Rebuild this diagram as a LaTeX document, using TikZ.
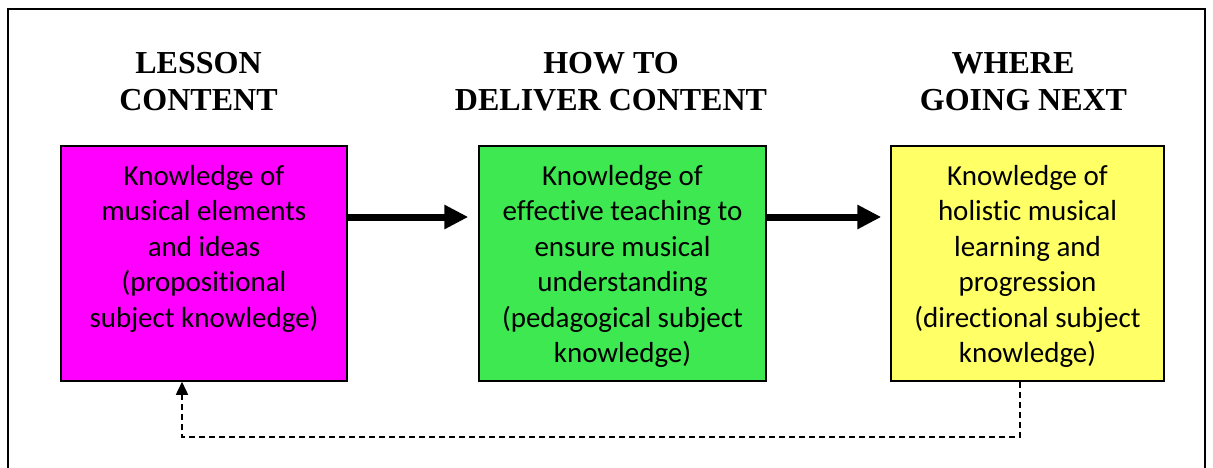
\documentclass[tikz,border=0pt]{standalone}
\usepackage{fontspec}
\setmainfont{Carlito}[Ligatures=NoCommon]
\newfontfamily\titlefont{Liberation Serif}
\usetikzlibrary{arrows.meta}
\definecolor{boxmagenta}{RGB}{255,0,255}
\definecolor{boxgreen}{RGB}{61,232,80}
\definecolor{boxyellow}{RGB}{255,255,102}
\tikzset{
  box/.style={draw=black, line width=1.5pt, minimum width=286pt, minimum height=235pt, inner sep=0pt},
  boxtext/.style={anchor=north, align=center, inner sep=0pt, font=\fontsize{29}{35.5}\selectfont},
  titletext/.style={anchor=north, align=center, inner sep=0pt, font=\titlefont\bfseries\fontsize{32}{37}\selectfont},
  bigarrow/.style={line width=7pt, -{Triangle[length=24pt,width=23pt]}},
  backarrow/.style={line width=1.5pt, dash pattern=on 6pt off 4pt, -{Triangle[length=13pt,width=12pt]}}
}
\begin{document}
\begin{tikzpicture}[x=1pt,y=-1pt]
\useasboundingbox (0,0) rectangle (1213,468);
\clip (0,0) rectangle (1213,468);
\draw[line width=2pt] (8,9) rectangle (1205,500);

% titles
\node[titletext] (t1) at (198.5,52.5) {LESSON\\CONTENT};
\node[titletext] (t2) at (611,52.5) {HOW TO\\DELIVER CONTENT};
\node[titletext] (t3) at (1023.5,52.5) {WHERE\hspace*{21pt}\\GOING NEXT};

% boxes
\node[box, fill=boxmagenta] (b1) at (204,263.5) {};
\node[box, fill=boxgreen, minimum width=287pt] (b2) at (622.5,263.5) {};
\node[box, fill=boxyellow, minimum width=273pt] (b3) at (1027.5,263.5) {};

% box texts
\node[boxtext] (x1) at (204,165) {Knowledge of\\musical elements\\and ideas\\(propositional\\subject knowledge)};
\node[boxtext] (x2) at (622.5,165) {Knowledge of\\effective teaching to\\ensure musical\\understanding\\(pedagogical subject\\knowledge)};
\node[boxtext] (x3) at (1027.5,165) {Knowledge of\\holistic musical\\learning and\\progression\\(directional subject\\knowledge)};

% connectors
\draw[bigarrow, shorten >=10pt] ([yshift=46.5pt]b1.east) -- ([yshift=46.5pt]b2.west);
\draw[bigarrow, shorten >=9pt] ([yshift=46.5pt]b2.east) -- ([yshift=46.5pt]b3.west);
\coordinate (c1) at ([xshift=-7.5pt, yshift=-55pt]b3.south);
\draw[backarrow] ([xshift=-7.5pt]b3.south) -- (c1) -| ([xshift=-22pt]b1.south);
\end{tikzpicture}
\end{document}
